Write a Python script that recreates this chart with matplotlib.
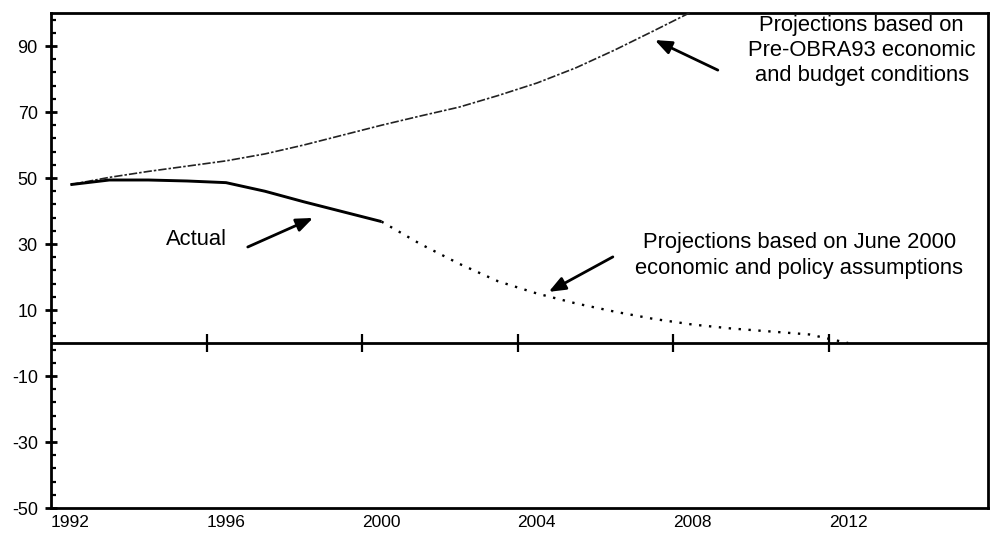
"""Surplus projections chart: actual path, pre-OBRA93 and June 2000 projections."""

import matplotlib

matplotlib.use("Agg")  # headless

import matplotlib.pyplot as plt  # noqa: E402
from matplotlib.ticker import FixedLocator  # noqa: E402

plt.rcParams["font.family"] = ["Liberation Sans", "DejaVu Sans"]
plt.rcParams["axes.unicode_minus"] = False

# Values (points sit at mid-year).
ACTUAL_YEARS = [1992.5, 1993.5, 1994.5, 1995.5, 1996.5, 1997.5, 1998.5, 1999.5, 2000.5]
ACTUAL = [48.0, 49.4, 49.4, 49.1, 48.6, 46.0, 42.8, 39.8, 36.8]

PRE_OBRA_YEARS = [1992.5, 1993.5, 1994.5, 1995.5, 1996.5, 1997.5, 1998.5, 1999.5,
                  2000.5, 2001.5, 2002.5, 2003.5, 2004.5, 2005.5, 2006.5, 2007.5, 2008.5]
PRE_OBRA = [48.0, 50.2, 52.0, 53.6, 55.2, 57.3, 60.0, 63.0,
            66.0, 68.8, 71.5, 75.0, 78.8, 83.4, 88.8, 94.6, 100.5]

JUNE2000_YEARS = [2000.5, 2001.5, 2002.5, 2003.5, 2004.5, 2005.5, 2006.5,
                  2007.5, 2008.5, 2009.5, 2010.5, 2011.5, 2012.5]
JUNE2000 = [36.8, 30.0, 24.0, 18.7, 15.0, 12.0, 9.5, 7.3, 5.6, 4.4, 3.5, 2.6, 0.0]

X_TICKS = [1992, 1996, 2000, 2004, 2008, 2012]
ZERO_TICKS = [1996, 2000, 2004, 2008, 2012]
Y_TICKS = [90, 70, 50, 30, 10, -10, -30, -50]
Y_MINOR = list(range(-50, 101, 4))

_TEXT_SIZE = 15.8


def _arrow(ax, head, tail):
    ax.annotate("", xy=head, xytext=tail,
                arrowprops=dict(arrowstyle="-|>,head_length=1.0,head_width=0.4",
                                lw=2.0, color="black", shrinkA=0, shrinkB=0,
                                mutation_scale=10))


fig = plt.figure(figsize=(9.93, 5.36), dpi=100)
ax = fig.add_axes([0.0514, 0.0522, 0.9436, 0.9235])

ax.plot(PRE_OBRA_YEARS, PRE_OBRA, color="#222222", lw=1.2,
        linestyle=(0, (5, 1.2, 1.5, 1.2)), zorder=3)
ax.plot(ACTUAL_YEARS, ACTUAL, color="black", lw=2.1, zorder=4,
        solid_capstyle="butt")
ax.plot(JUNE2000_YEARS, JUNE2000, color="black", lw=1.7,
        linestyle=(0, (1, 3.2)), zorder=3)

# zero line with its own year ticks
ax.axhline(0, color="black", lw=2.0, zorder=2)
ax.plot(ZERO_TICKS, [0] * len(ZERO_TICKS), linestyle="none", marker="|",
        markersize=13, markeredgewidth=1.6, color="black", zorder=2)

ax.set_xlim(1992, 2016.1)
ax.set_ylim(-50, 100)

# year labels hang under the frame, left-aligned on their year
ax.set_xticks(X_TICKS)
ax.set_xticklabels([str(y) for y in X_TICKS], ha="left", fontsize=12.5)
ax.tick_params(axis="x", length=0, pad=5)

ax.yaxis.set_major_locator(FixedLocator(Y_TICKS))
ax.yaxis.set_minor_locator(FixedLocator(Y_MINOR))
ax.set_yticklabels([str(v) for v in Y_TICKS], fontsize=13)
ax.tick_params(axis="y", which="major", direction="inout", length=9, width=2, pad=5)
ax.tick_params(axis="y", which="minor", direction="in", length=3.5, width=1.6)

for spine in ax.spines.values():
    spine.set_linewidth(2.0)

ax.text(1995.75, 31.5, "Actual", ha="center", va="center", fontsize=_TEXT_SIZE)
_arrow(ax, (1998.74, 37.9), (1997.06, 29.1))

ax.text(2012.85, 88.6, "Projections based on\nPre-OBRA93 economic\nand budget conditions",
        ha="center", va="center", fontsize=_TEXT_SIZE, linespacing=1.26)
_arrow(ax, (2007.53, 91.8), (2009.15, 82.7))

ax.text(2011.25, 26.6, "Projections based on June 2000\neconomic and policy assumptions",
        ha="center", va="center", fontsize=_TEXT_SIZE, linespacing=1.3)
_arrow(ax, (2004.8, 15.5), (2006.45, 26.1))

fig.savefig("out.png", dpi=100)
plt.close(fig)
